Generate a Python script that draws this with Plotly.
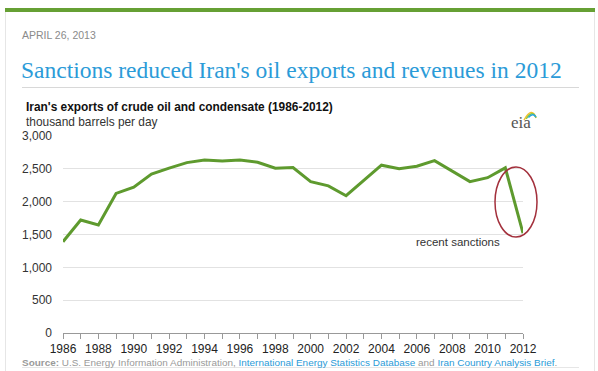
import plotly.graph_objects as go

years = list(range(1986, 2013))
exports = [1390, 1720, 1645, 2125, 2220, 2420, 2510, 2595, 2635, 2620, 2635, 2600, 2510,
           2520, 2305, 2240, 2090, 2320, 2555, 2500, 2540, 2625, 2470, 2305, 2365, 2515, 1520]
y_ticks = [0, 500, 1000, 1500, 2000, 2500, 3000]
y_labels = ["0", "500", "1,000", "1,500", "2,000", "2,500", "3,000"]
x_label_years = list(range(1986, 2013, 2))

W, H = 598, 371
L, R, T, B = 63, 523, 136, 333

def px(x):
    return (x - L) / (R - L)

def py(y):
    return (B - y) / (B - T)

fig = go.Figure()
fig.add_trace(go.Scatter(x=years, y=exports, mode="lines",
                         line=dict(color="#5e9a2e", width=3), hoverinfo="skip"))

fig.update_layout(
    width=W, height=H,
    margin=dict(l=L, r=W - R, t=T, b=H - B),
    paper_bgcolor="white", plot_bgcolor="white",
    showlegend=False,
    font=dict(family="Liberation Sans, Arial, sans-serif", color="#333333", size=12),
    xaxis=dict(range=[1986, 2012], tickmode="array", tickvals=years,
               ticktext=[str(y) if y in x_label_years else "" for y in years],
               showgrid=False, zeroline=False, showline=True, linecolor="#999999",
               linewidth=1, ticks="outside", ticklen=5, tickcolor="#999999",
               tickfont=dict(size=12, color="#222222"), fixedrange=True),
    yaxis=dict(range=[0, 3000], tickmode="array", tickvals=y_ticks, ticktext=y_labels,
               showgrid=True, gridcolor="#e2e2e2", gridwidth=1, zeroline=False,
               showline=False, ticks="", tickfont=dict(size=12, color="#333333"),
               ticklabelstandoff=10, fixedrange=True),
)

shapes = []
# card borders
shapes.append(dict(type="line", xref="paper", yref="paper", x0=px(5.5), x1=px(5.5), y0=py(8), y1=py(371),
                   line=dict(color="#e6e6e6", width=1)))
shapes.append(dict(type="line", xref="paper", yref="paper", x0=px(594.5), x1=px(594.5), y0=py(8), y1=py(371),
                   line=dict(color="#e6e6e6", width=1)))
# green top bar
shapes.append(dict(type="rect", xref="paper", yref="paper", x0=px(5), x1=px(595), y0=py(12), y1=py(8),
                   fillcolor="#66a034", line=dict(width=0)))
# title underline
shapes.append(dict(type="line", xref="paper", yref="paper", x0=px(22), x1=px(579), y0=py(87.5), y1=py(87.5),
                   line=dict(color="#d8d8d8", width=1)))
# bottom source underline
shapes.append(dict(type="line", xref="paper", yref="paper", x0=px(22), x1=px(579), y0=py(367.5), y1=py(367.5),
                   line=dict(color="#e6e6e6", width=1)))
# sanction ellipse
shapes.append(dict(type="circle", xref="paper", yref="paper", x0=px(495), x1=px(537), y0=py(237), y1=py(167),
                   line=dict(color="#a3303c", width=1.5)))
# eia logo arcs
arc_colors = ["#f2c12e", "#8cc63f", "#2aa6df"]
for i, c in enumerate(arc_colors):
    r = 10 - i * 2.2
    cx, cy = 534, 122
    shapes.append(dict(type="path", xref="paper", yref="paper",
                       path=f"M {px(cx - r)} {py(cy - 2 - i*1.2)} Q {px(cx - r*0.2)} {py(cy - r - 6 + i)} {px(cx + 2)} {py(cy - 4 - i*0.5)}",
                       line=dict(color=c, width=1.5)))
fig.update_layout(shapes=shapes)

ann = []
def text(x, y, s, size, color, xanchor="left", family=None, bold=False):
    ann.append(dict(xref="paper", yref="paper", x=px(x), y=py(y), text=(f"<b>{s}</b>" if bold else s),
                    showarrow=False, xanchor=xanchor, yanchor="middle",
                    font=dict(size=size, color=color, family=family or "Liberation Sans, Arial, sans-serif")))

text(20, 35, "APRIL 26, 2013", 10.5, "#8a8a8a")
text(19, 70, "Sanctions reduced Iran's oil exports and revenues in 2012", 23.5, "#2b9bd8",
     family="Liberation Serif, Times New Roman, serif")
text(24, 107, "Iran's exports of crude oil and condensate (1986-2012)", 11.9, "#111111", bold=True)
text(24, 122, "thousand barrels per day", 11.9, "#333333")
text(414, 242, "recent sanctions", 11.5, "#333333")
text(509, 123, "eia", 17, "#555555", family="Liberation Serif, Times New Roman, serif")
text(20, 362,
     "<b>Source:</b> U.S. Energy Information Administration, "
     "<span style='color:#2b9bd8'>International Energy Statistics Database</span> and "
     "<span style='color:#2b9bd8'>Iran Country Analysis Brief</span>.",
     9.95, "#9a9a9a")
fig.update_layout(annotations=ann)

fig.write_html("out.html", config={"displayModeBar": False, "staticPlot": True},
               post_script="document.body.style.margin='0';document.body.style.padding='0';")
